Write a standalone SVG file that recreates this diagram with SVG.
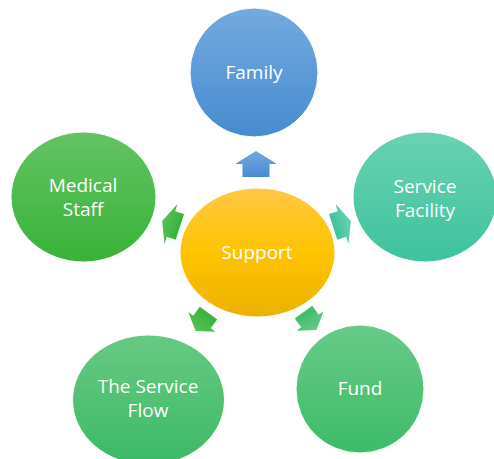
<svg xmlns="http://www.w3.org/2000/svg" width="494" height="459" viewBox="0 0 494 459">
<defs>
<linearGradient id="gBlue" x1="0" y1="0" x2="0" y2="1"><stop offset="0" stop-color="#74aadf"/><stop offset="1" stop-color="#478bd0"/></linearGradient>
<linearGradient id="gYellow" x1="0" y1="0" x2="0" y2="1"><stop offset="0" stop-color="#ffc845"/><stop offset="0.5" stop-color="#ffc400"/><stop offset="1" stop-color="#ecb100"/></linearGradient>
<linearGradient id="gGreen" x1="0" y1="0" x2="0" y2="1"><stop offset="0" stop-color="#64c364"/><stop offset="1" stop-color="#38b338"/></linearGradient>
<linearGradient id="gTeal" x1="0" y1="0" x2="0" y2="1"><stop offset="0" stop-color="#6ad2b2"/><stop offset="1" stop-color="#3ec29d"/></linearGradient>
<linearGradient id="gFlow" x1="0" y1="0" x2="0" y2="1"><stop offset="0" stop-color="#68c982"/><stop offset="1" stop-color="#3bba66"/></linearGradient>
<linearGradient id="gFund" x1="0" y1="0" x2="0" y2="1"><stop offset="0" stop-color="#68ca88"/><stop offset="1" stop-color="#3cbc68"/></linearGradient>
<linearGradient id="gArrowGreen" x1="0" y1="0" x2="0" y2="1"><stop offset="0" stop-color="#5ac05a"/><stop offset="1" stop-color="#3ab23a"/></linearGradient>
<polygon id="arrow" points="0,-13 21,0 13.5,0 13.5,13 -13.5,13 -13.5,0 -21,0"/>
</defs>
<style>
.node { stroke: #ffffff; stroke-width: 1; }
.label { font-family: "Open Sans", "Noto Sans", "Liberation Sans", sans-serif; font-size: 19px; fill: #ffffff; text-anchor: middle; }
</style>
<g id="connectors">
<use href="#arrow" fill="url(#gBlue)" transform="translate(256,164)"/>
<use href="#arrow" fill="url(#gArrowGreen)" transform="translate(171,224) rotate(-72) scale(1,0.72)"/>
<use href="#arrow" fill="url(#gTeal)" transform="translate(342,224) rotate(72) scale(1,0.72)"/>
<use href="#arrow" fill="url(#gArrowGreen)" transform="translate(202,322) rotate(-144) scale(0.8,0.85)"/>
<use href="#arrow" fill="url(#gFund)" transform="translate(310,321) rotate(144) scale(0.8,0.85)"/>
</g>
<g id="support">
<ellipse class="node" cx="257.5" cy="252.5" rx="77.5" ry="64.5" fill="url(#gYellow)"/>
<text class="label" x="257" y="259">Support</text>
</g>
<g id="family">
<ellipse class="node" cx="254" cy="72.5" rx="64" ry="64.5" fill="url(#gBlue)"/>
<text class="label" x="254" y="79">Family</text>
</g>
<g id="medical-staff">
<ellipse class="node" cx="83.5" cy="197" rx="72.5" ry="65" fill="url(#gGreen)"/>
<text class="label" x="83" y="192">Medical</text>
<text class="label" x="83" y="216">Staff</text>
</g>
<g id="service-facility">
<ellipse class="node" cx="425" cy="197" rx="72" ry="65" fill="url(#gTeal)"/>
<text class="label" x="425" y="192.5">Service</text>
<text class="label" x="425" y="216.5">Facility</text>
</g>
<g id="service-flow">
<ellipse class="node" cx="148.5" cy="400" rx="76" ry="65" fill="url(#gFlow)"/>
<text class="label" x="148" y="393">The Service</text>
<text class="label" x="148" y="417">Flow</text>
</g>
<g id="fund">
<ellipse class="node" cx="360" cy="389" rx="64" ry="64" fill="url(#gFund)"/>
<text class="label" x="360" y="395">Fund</text>
</g>
</svg>
